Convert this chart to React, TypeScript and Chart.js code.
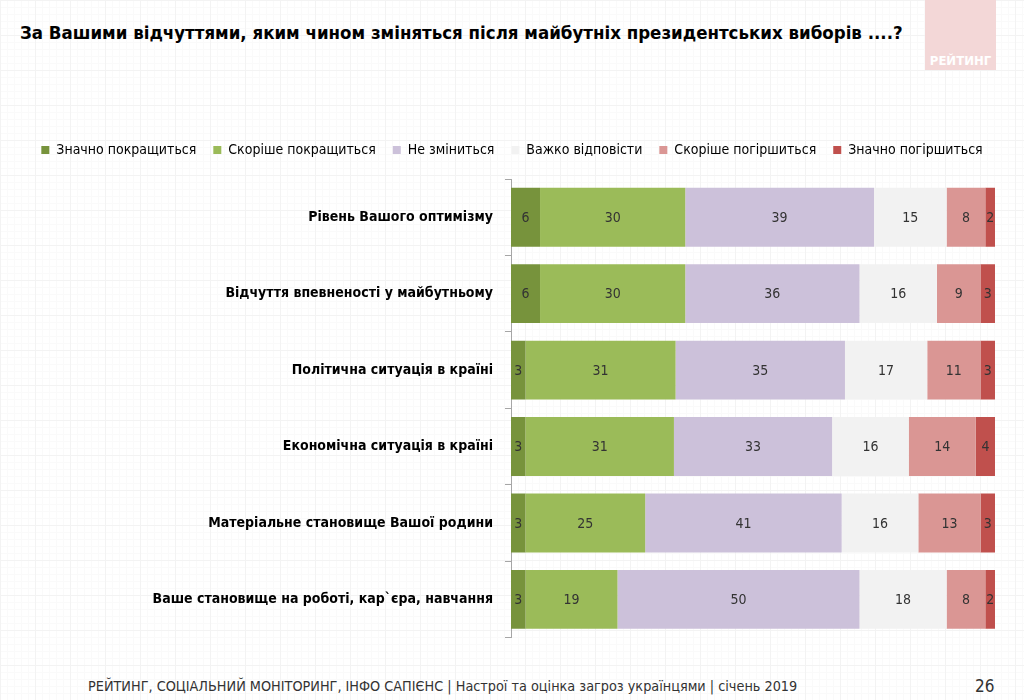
import React, { useEffect, useRef } from "react";
import { Chart, registerables } from "chart.js";

Chart.register(...registerables);

const categories: string[] = [
  "Рівень Вашого оптимізму",
  "Відчуття впевненості у майбутньому",
  "Політична ситуація в країні",
  "Економічна ситуація в країні",
  "Матеріальне становище Вашої родини",
  "Ваше становище на роботі, кар`єра, навчання",
];

const seriesNames: string[] = [
  "Значно покращиться",
  "Скоріше покращиться",
  "Не зміниться",
  "Важко відповісти",
  "Скоріше погіршиться",
  "Значно погіршиться",
];

const muchBetter: number[] = [6, 6, 3, 3, 3, 3];
const ratherBetter: number[] = [30, 30, 31, 31, 25, 19];
const noChange: number[] = [39, 36, 35, 33, 41, 50];
const hardToSay: number[] = [15, 16, 17, 16, 16, 18];
const ratherWorse: number[] = [8, 9, 11, 14, 13, 8];
const muchWorse: number[] = [2, 3, 3, 4, 3, 2];

const seriesColors: string[] = ["#77933C", "#9BBB59", "#CCC1DA", "#F2F2F2", "#DA9694", "#C0504D"];

const NARROW = '"Liberation Sans Narrow", "DejaVu Sans Condensed", "Arial Narrow", Arial, sans-serif';

const valueLabels = {
  id: "valueLabels",
  afterDatasetsDraw(chart: any) {
    const ctx = chart.ctx;
    ctx.save();
    ctx.font = `14px ${NARROW}`;
    ctx.fillStyle = "#333333";
    ctx.textAlign = "center";
    ctx.textBaseline = "middle";
    chart.data.datasets.forEach((ds: any, di: number) => {
      const meta = chart.getDatasetMeta(di);
      meta.data.forEach((bar: any, i: number) => {
        const raw = ds.rawValues[i];
        const cx = (bar.x + bar.base) / 2;
        ctx.fillText(String(raw), cx, bar.y + 1);
      });
    });
    ctx.restore();
  },
};

const legendGap = {
  id: "legendGap",
  beforeInit(chart: any) {
    if (!chart.legend) return;
    const legend = chart.legend;
    const origFit = legend.fit;
    legend.fit = function () {
      origFit.call(this);
      this.height += 12;
    };
  },
  afterLayout(chart: any) {
    const legend = chart.legend;
    if (!legend) return;
    legend.left = 0;
    legend.right = chart.width;
    legend.width = chart.width;
  },
};

export default function App() {
  const canvasRef = useRef<HTMLCanvasElement | null>(null);

  useEffect(() => {
    const all = [muchBetter, ratherBetter, noChange, hardToSay, ratherWorse, muchWorse];
    const totals = categories.map((_, i) => all.reduce((s, arr) => s + arr[i], 0));
    const chart = new Chart(canvasRef.current as HTMLCanvasElement, {
      type: "bar",
      data: {
        labels: categories,
        datasets: all.map((arr, k) => ({
          label: seriesNames[k],
          data: arr.map((v, i) => (v / totals[i]) * 100),
          rawValues: arr,
          backgroundColor: seriesColors[k],
          borderWidth: 0,
          barPercentage: 0.77,
          categoryPercentage: 1,
        })) as any,
      },
      options: {
        indexAxis: "y",
        responsive: false,
        animation: false,
        layout: { padding: { top: 0, right: 29, bottom: 8, left: 0 } },
        plugins: {
          legend: {
            position: "top",
            labels: {
              boxWidth: 8,
              boxHeight: 8,
              padding: 17,
              color: "#000000",
              font: { family: NARROW, size: 14 },
            },
          },
          tooltip: { enabled: false },
          title: { display: false },
        },
        scales: {
          x: {
            stacked: true,
            min: 0,
            max: 100,
            display: false,
          },
          y: {
            stacked: true,
            afterFit: (scale: any) => {
              scale.width = 511;
            },
            border: { display: true, color: "#A6A6A6", width: 1 },
            grid: {
              drawOnChartArea: false,
              drawTicks: true,
              tickLength: 6,
              color: "#A6A6A6",
              offset: true,
            },
            ticks: {
              color: "#000000",
              padding: 12,
              font: { family: NARROW, size: 14, weight: "bold" },
            },
          },
        },
      },
      plugins: [legendGap, valueLabels],
    } as any);
    return () => chart.destroy();
  }, []);

  return (
    <div
      style={{
        position: "fixed",
        left: 0,
        top: 0,
        width: 1024,
        height: 700,
        background: "#ffffff",
        backgroundImage:
          "linear-gradient(#f3f3f3 1px, transparent 1px), linear-gradient(90deg, #f3f3f3 1px, transparent 1px), linear-gradient(#fafafa 1px, transparent 1px), linear-gradient(90deg, #fafafa 1px, transparent 1px)",
        backgroundSize: "35px 35px, 35px 35px, 7px 7px, 7px 7px",
        overflow: "hidden",
        fontFamily: NARROW,
      }}
    >
      <div
        style={{
          position: "absolute",
          left: 925,
          top: 0,
          width: 71,
          height: 70,
          background: "#F3D7D7",
        }}
      >
        <div
          style={{
            position: "absolute",
            left: -10,
            right: -10,
            top: 53,
            textAlign: "center",
            color: "#ffffff",
            fontWeight: "bold",
            fontSize: 13,
            fontFamily: NARROW,
          }}
        >
          РЕЙТИНГ
        </div>
      </div>
      <div
        style={{
          position: "absolute",
          left: 20,
          top: 22,
          fontSize: 18.5,
          fontWeight: "bold",
          color: "#000000",
          whiteSpace: "nowrap",
        }}
      >
        За Вашими відчуттями, яким чином зміняться після майбутніх президентських виборів ....?
      </div>
      <canvas
        ref={canvasRef}
        width={1024}
        height={532}
        style={{ position: "absolute", left: 0, top: 126, width: 1024, height: 532 }}
      />
      <div
        style={{
          position: "absolute",
          left: 88,
          top: 678,
          fontSize: 14.3,
          color: "#333333",
          whiteSpace: "nowrap",
        }}
      >
        РЕЙТИНГ, СОЦІАЛЬНИЙ МОНІТОРИНГ, ІНФО САПІЄНС | Настрої та оцінка загроз українцями | січень 2019
      </div>
      <div
        style={{
          position: "absolute",
          left: 975,
          top: 676,
          fontSize: 17,
          color: "#333333",
        }}
      >
        26
      </div>
    </div>
  );
}
